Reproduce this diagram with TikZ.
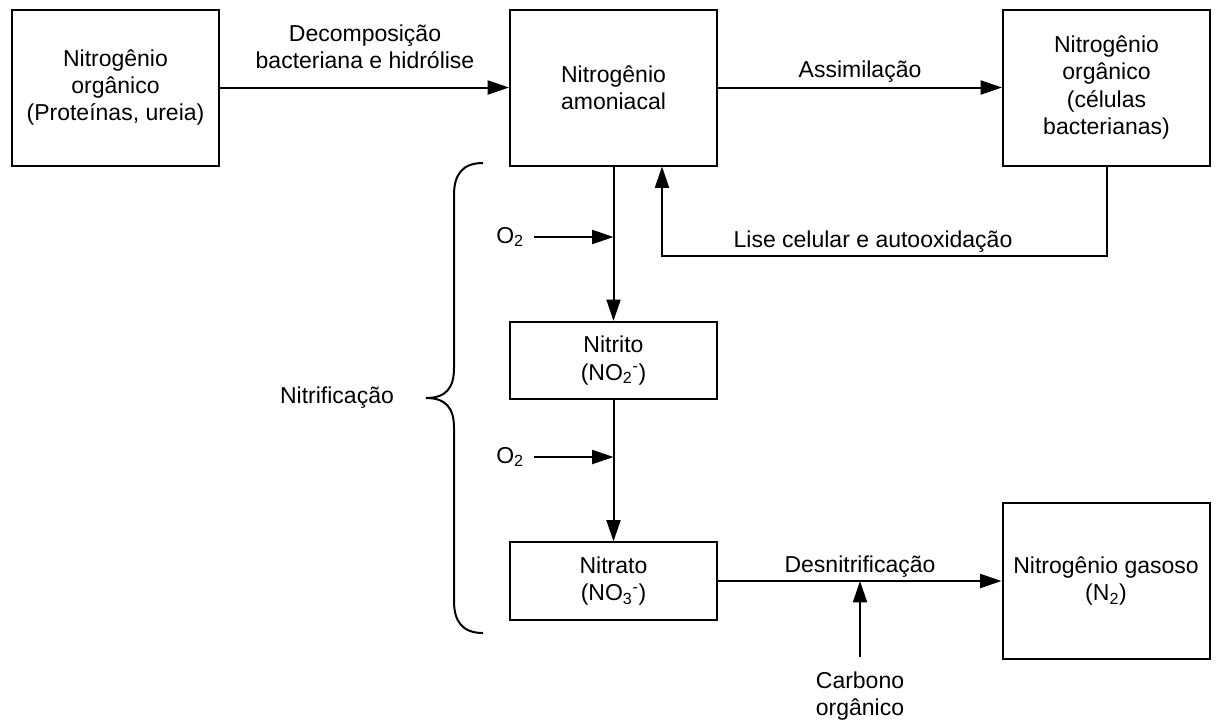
\documentclass[tikz,border=0pt]{standalone}
\usepackage{fontspec}
\setmainfont{Liberation Sans}
\usetikzlibrary{arrows.meta}

\tikzset{
  caixa/.style={draw, line width=1.5pt, align=center, inner sep=0pt, minimum width=155.25pt, minimum height=117pt},
  caixinha/.style={caixa, minimum height=58pt},
  seta/.style={line width=1.5pt, -{Triangle[length=16pt,width=10.5pt]}},
  rotulo/.style={align=center}
}

\begin{document}
\begin{tikzpicture}[x=0.75pt,y=0.75pt,yscale=-1,font=\fontsize{17.25}{20.5}\selectfont]
\useasboundingbox (0,0) rectangle (1216,722);

%Caixas
\node[caixa] (orgprot) at (115.5,87.5) {Nitrogênio\\orgânico\\(Proteínas, ureia)};
\node[caixa] (amon) at (613.5,87.5) {Nitrogênio\\amoniacal};
\node[caixa] (orgcel) at (1106.5,87.5) {Nitrogênio\\orgânico\\(células\\bacterianas)};
\node[caixinha] (nitrito) at (613.5,360.5) {Nitrito\\(NO\textsubscript{2}\textsuperscript{-})};
\node[caixinha] (nitrato) at (613.5,581) {Nitrato\\(NO\textsubscript{3}\textsuperscript{-})};
\node[caixa] (gasoso) at (1106,581) {Nitrogênio gasoso\\(N\textsubscript{2})};

%Rotulos
\node[rotulo] (decomp) at (365,47) {Decomposição\\bacteriana e hidrólise};
\node[rotulo] (assim) at (860,72) {Assimilação};
\node[rotulo] (lise) at (873,242) {Lise celular e autooxidação};
\node[rotulo] (desnit) at (860,567) {Desnitrificação};
\node[rotulo] (oxi1) at (510,237) {O\textsubscript{2}};
\node[rotulo] (oxi2) at (510,457) {O\textsubscript{2}};
\node[rotulo, inner ysep=10.5pt] (carb) at (860,696) {Carbono\\orgânico};
\node[rotulo] (nitrif) at (337,398) {Nitrificação};

%Pontos de juncao
\coordinate (j1) at (613.5,237);
\coordinate (j2) at (613.5,457);
\coordinate (jc) at (860,581);
\coordinate (lisecanto) at (662,256);

%Setas
\draw[seta] (orgprot) -- (amon);
\draw[seta] (amon) -- (orgcel);
\draw[seta] (amon) -- (nitrito);
\draw[seta] (nitrito) -- (nitrato);
\draw[seta] (nitrato) -- (gasoso);
\draw[seta, shorten <=4pt] (oxi1) -- (j1);
\draw[seta, shorten <=4pt] (oxi2) -- (j2);
\draw[seta] (carb) -- (jc);
\draw[seta] (orgcel.south) |- (lisecanto) -- (lisecanto |- amon.south);

%Chave
\draw[line width=1.5pt] (483,163) .. controls (462,163) and (454,175) .. (454,195) -- (454,368) .. controls (454,388) and (446,398) .. (426,398) .. controls (446,398) and (454,408) .. (454,428) -- (454,601) .. controls (454,621) and (462,633) .. (483,633);

\end{tikzpicture}
\end{document}
